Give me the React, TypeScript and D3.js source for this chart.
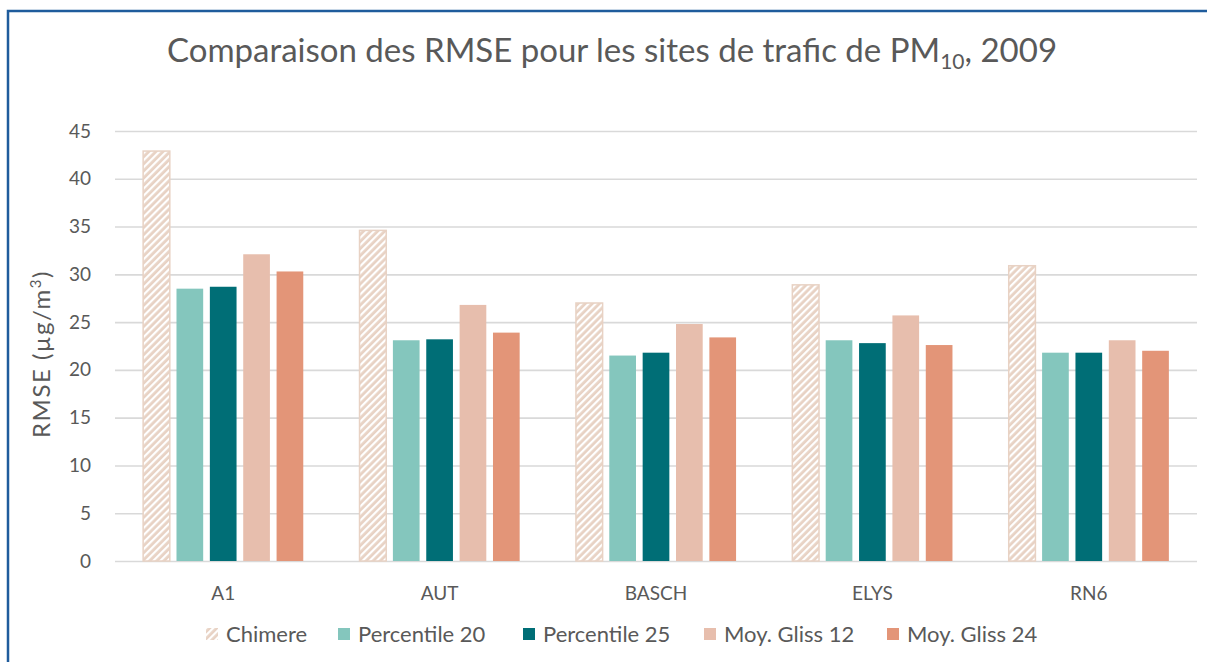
import * as d3 from 'd3';
import React, { useRef, useEffect } from 'react';

const sites = ['A1', 'AUT', 'BASCH', 'ELYS', 'RN6'];
const seriesNames = ['Chimere', 'Percentile 20', 'Percentile 25', 'Moy. Gliss 12', 'Moy. Gliss 24'];
const chimere = [42.9, 34.6, 27.0, 28.9, 30.9];
const percentile20 = [28.5, 23.1, 21.5, 23.1, 21.8];
const percentile25 = [28.7, 23.2, 21.8, 22.8, 21.8];
const moyGliss12 = [32.1, 26.8, 24.8, 25.7, 23.1];
const moyGliss24 = [30.3, 23.9, 23.4, 22.6, 22.0];
const yTicks = [0, 5, 10, 15, 20, 25, 30, 35, 40, 45];

const colours = ['url(#hatch)', '#84c6bd', '#006e76', '#e7bead', '#e39578'];
const FONT = 'Lato, "Open Sans", sans-serif';
const TEXT = '#595959';

export default function App() {
    const ref = useRef<SVGSVGElement>(null);

    useEffect(() => {
        const W = 1207, H = 662;
        const margin = { top: 131, right: 10, bottom: 101, left: 115 };
        const width = W - margin.left - margin.right;
        const height = H - margin.top - margin.bottom;

        const root = d3.select(ref.current);
        root.selectAll('*').remove();

        const defs = root.append('defs');
        const pat = defs.append('pattern')
            .attr('id', 'hatch')
            .attr('patternUnits', 'userSpaceOnUse')
            .attr('width', 5)
            .attr('height', 5)
            .attr('patternTransform', 'rotate(45)');
        pat.append('rect').attr('width', 5).attr('height', 5).attr('fill', '#e8d2c4');
        pat.append('rect').attr('x', 0).attr('width', 2.2).attr('height', 5).attr('fill', '#ffffff');

        root.append('rect').attr('width', W).attr('height', H).attr('fill', '#ffffff');

        // frame
        root.append('path')
            .attr('d', `M8,${H + 5} L8,11 L${W + 5},11`)
            .attr('fill', 'none')
            .attr('stroke', '#1f5c9c')
            .attr('stroke-width', 2.5);

        root.append('text')
            .attr('x', 612)
            .attr('y', 62)
            .attr('text-anchor', 'middle')
            .style('font-family', FONT)
            .style('font-size', '33px')
            .attr('fill', TEXT)
            .call(t => {
                t.append('tspan').text('Comparaison des RMSE pour les sites de trafic de PM');
                t.append('tspan').attr('dy', 7).style('font-size', '21px').text('10');
                t.append('tspan').attr('dy', -7).text(', 2009');
            });

        const g = root.append('g').attr('transform', `translate(${margin.left},${margin.top})`);

        const x0 = d3.scaleBand().domain(sites).range([0, width]).paddingInner(0.26).paddingOuter(0.13);
        const x1 = d3.scaleBand().domain(seriesNames).range([0, x0.bandwidth()]).paddingInner(0.2);
        const y = d3.scaleLinear().domain([0, 45]).range([height, 0]);

        g.append('g')
            .call(d3.axisLeft(y).tickValues(yTicks).tickSize(-width).tickFormat(d3.format('d')))
            .call(a => a.select('.domain').remove())
            .call(a => a.selectAll('line').attr('stroke', '#d9d9d9').attr('stroke-width', 1.6))
            .call(a => a.selectAll('text')
                .attr('x', -24)
                .attr('fill', TEXT)
                .style('font-family', FONT)
                .style('font-size', '19px'));

        g.append('g')
            .attr('transform', `translate(0,${height})`)
            .call(d3.axisBottom(x0).tickSize(0).tickPadding(26))
            .call(a => a.select('.domain').remove())
            .call(a => a.selectAll('text')
                .attr('fill', TEXT)
                .style('font-family', FONT)
                .style('font-size', '19px'));

        const values = [chimere, percentile20, percentile25, moyGliss12, moyGliss24];
        const rows = sites.map((s, i) => ({ site: s, vals: values.map((v, j) => ({ key: seriesNames[j], value: v[i], j })) }));

        const grp = g.selectAll('.grp')
            .data(rows)
            .enter().append('g')
            .attr('transform', d => `translate(${x0(d.site)},0)`);

        grp.selectAll('rect')
            .data(d => d.vals)
            .enter().append('rect')
            .attr('x', d => x1(d.key)!)
            .attr('width', x1.bandwidth())
            .attr('y', d => y(d.value))
            .attr('height', d => height - y(d.value))
            .attr('fill', d => colours[d.j])
            .attr('stroke', d => d.j === 0 ? '#e8d2c4' : 'none')
            .attr('stroke-width', 1.5);

        // legend
        const legendX = [226, 358, 543, 724, 907];
        const lg = root.append('g').attr('transform', 'translate(0,642)');
        const item = lg.selectAll('g')
            .data(seriesNames)
            .enter().append('g')
            .attr('transform', (d, i) => `translate(${legendX[i]},0)`);
        item.append('rect')
            .attr('x', -20)
            .attr('y', -14)
            .attr('width', 12)
            .attr('height', 12)
            .attr('fill', (d, i) => colours[i]);
        item.append('text')
            .attr('x', 0)
            .attr('y', 0)
            .attr('fill', TEXT)
            .style('font-family', FONT)
            .style('font-size', '22px')
            .text(d => d);

        // y axis title
        root.append('text')
            .attr('transform', 'translate(50,354) rotate(-90)')
            .attr('text-anchor', 'middle')
            .attr('fill', TEXT)
            .style('font-family', FONT)
            .style('font-size', '24px')
            .style('letter-spacing', '1.5px')
            .call(t => {
                t.append('tspan').text('RMSE (µg/m');
                t.append('tspan').attr('dy', -9).style('font-size', '15px').text('3');
                t.append('tspan').attr('dy', 9).text(')');
            });
    }, []);

    return (
        <svg ref={ref} width={1207} height={662} style={{ position: 'absolute', left: 0, top: 0 }} />
    );
}
